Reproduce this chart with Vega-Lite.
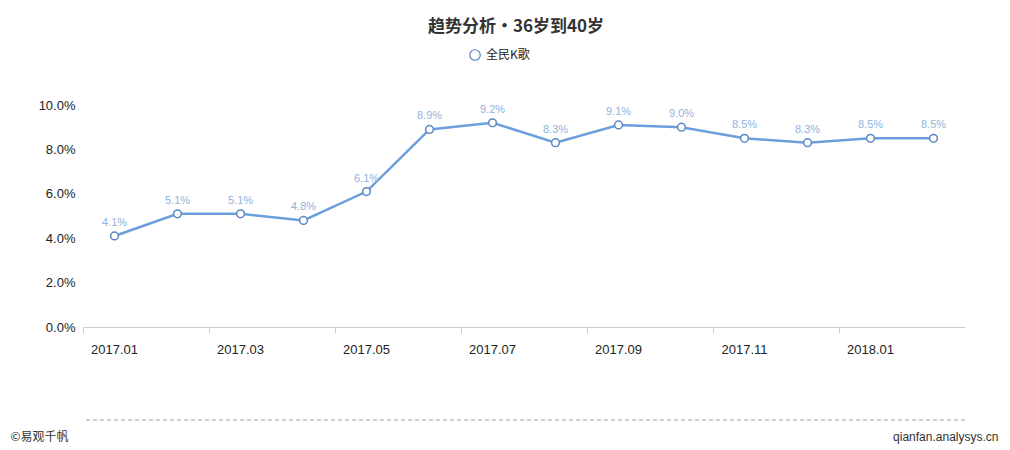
{
  "$schema": "https://vega.github.io/schema/vega-lite/v6.json",
  "autosize": {"type": "none"},
  "width": 882,
  "height": 222,
  "padding": {"left": 83, "top": 105, "right": 45, "bottom": 123},
  "background": "white",
  "title": {
    "text": "趋势分析・36岁到40岁",
    "anchor": "middle",
    "frame": "group",
    "dx": -8,
    "offset": 13,
    "fontSize": 17,
    "fontWeight": "bold",
    "color": "#333333",
    "font": "Noto Sans CJK SC"
  },
  "data": {
    "values": [
      {"month": "2017.01", "value": 0.041, "series": "全民K歌"},
      {"month": "2017.02", "value": 0.051, "series": "全民K歌"},
      {"month": "2017.03", "value": 0.051, "series": "全民K歌"},
      {"month": "2017.04", "value": 0.048, "series": "全民K歌"},
      {"month": "2017.05", "value": 0.061, "series": "全民K歌"},
      {"month": "2017.06", "value": 0.089, "series": "全民K歌"},
      {"month": "2017.07", "value": 0.092, "series": "全民K歌"},
      {"month": "2017.08", "value": 0.083, "series": "全民K歌"},
      {"month": "2017.09", "value": 0.091, "series": "全民K歌"},
      {"month": "2017.10", "value": 0.090, "series": "全民K歌"},
      {"month": "2017.11", "value": 0.085, "series": "全民K歌"},
      {"month": "2017.12", "value": 0.083, "series": "全民K歌"},
      {"month": "2018.01", "value": 0.085, "series": "全民K歌"},
      {"month": "2018.02", "value": 0.085, "series": "全民K歌"}
    ]
  },
  "encoding": {
    "x": {
      "field": "month",
      "type": "ordinal",
      "scale": {"type": "band", "paddingInner": 0, "paddingOuter": 0},
      "axis": {
        "values": ["2017.01", "2017.03", "2017.05", "2017.07", "2017.09", "2017.11", "2018.01"],
        "bandPosition": 0,
        "labelAngle": 0,
        "labelAlign": "center",
        "labelPadding": 10,
        "labelFontSize": 13,
        "labelColor": "#222222",
        "labelFont": "Liberation Sans",
        "domainColor": "#cccccc",
        "tickColor": "#cccccc",
        "tickSize": 6,
        "grid": false,
        "title": "qianfan.analysys.cn",
        "titleFont": "Liberation Sans",
        "titleFontSize": 12,
        "titleFontWeight": "normal",
        "titleColor": "#333333",
        "titleAnchor": "end",
        "titleAlign": "right",
        "titleBaseline": "middle",
        "titleX": 915,
        "titleY": 109
      }
    },
    "y": {
      "field": "value",
      "type": "quantitative",
      "scale": {"domain": [0, 0.1]},
      "axis": {
        "values": [0, 0.02, 0.04, 0.06, 0.08, 0.1],
        "format": ".1%",
        "domain": false,
        "ticks": false,
        "grid": false,
        "labelPadding": 8,
        "labelFontSize": 13,
        "labelColor": "#222222",
        "labelFont": "Liberation Sans",
        "title": "©易观千帆",
        "titleFont": "Noto Sans CJK SC",
        "titleFontSize": 12,
        "titleFontWeight": "normal",
        "titleColor": "#333333",
        "titleAngle": 0,
        "titleAlign": "left",
        "titleBaseline": "middle",
        "titleX": -73,
        "titleY": 331
      }
    }
  },
  "layer": [
    {
      "mark": {"type": "rule", "color": "#d0d0d0", "strokeDash": [4, 3], "strokeWidth": 1},
      "encoding": {"y": {"datum": -0.0419}, "x": null}
    },
    {
      "mark": {"type": "line", "color": "#6a9fdc", "strokeWidth": 2.5}
    },
    {
      "mark": {"type": "point", "shape": "circle", "filled": true, "fill": "white", "strokeWidth": 1.5, "size": 60, "opacity": 1},
      "encoding": {
        "stroke": {
          "field": "series",
          "type": "nominal",
          "scale": {"range": ["#5b87c5"]},
          "legend": {
            "title": null,
            "orient": "none",
            "legendX": 386,
            "legendY": -56,
            "symbolType": "circle",
            "symbolFillColor": "white",
            "symbolStrokeWidth": 1.2,
            "symbolStrokeColor": "#7aa8dc",
            "symbolSize": 110,
            "labelFont": "Noto Sans CJK SC",
            "labelFontSize": 12,
            "labelColor": "#222222",
            "labelOffset": 5
          }
        }
      }
    },
    {
      "mark": {"type": "text", "dy": -13, "fontSize": 11, "color": "#8fb3dc", "font": "Liberation Sans"},
      "encoding": {"text": {"field": "value", "type": "quantitative", "format": ".1%"}}
    }
  ],
  "config": {"view": {"stroke": null}}
}
